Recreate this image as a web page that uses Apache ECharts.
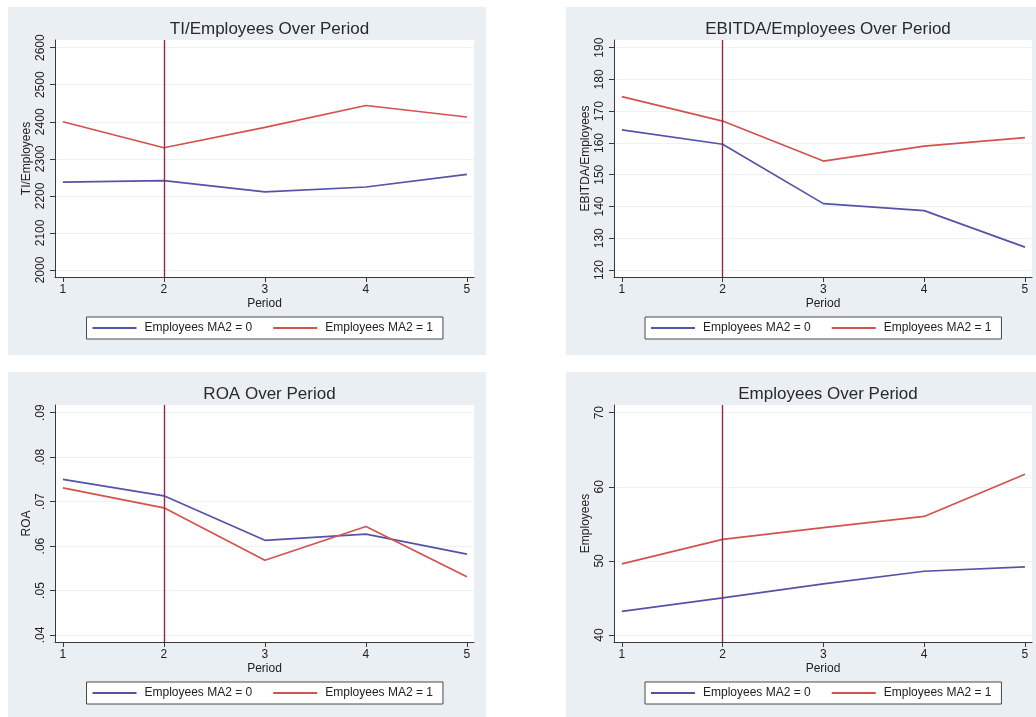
<!DOCTYPE html>
<html>
<head>
<meta charset="utf-8">
<title>Performance Over Period</title>
<script src="https://cdn.jsdelivr.net/npm/echarts@6/dist/echarts.min.js"></script>
<style>
  html, body { margin: 0; padding: 0; background: #ffffff; }
  #chart { width: 1036px; height: 717px; }
</style>
</head>
<body>
<div id="chart"></div>
<script>
// Periods and the period marked by the vertical reference line
const periods = [1, 2, 3, 4, 5];
const markerPeriod = 2;

// Group names
const groupNames = ['Employees MA2 = 0', 'Employees MA2 = 1'];

// TI per employee
const tiEmp0 = [2237, 2241, 2211, 2224, 2258];
const tiEmp1 = [2400, 2330, 2385, 2444, 2413];
const tiTicks = [2000, 2100, 2200, 2300, 2400, 2500, 2600];

// EBITDA per employee
const ebitdaEmp0 = [164.1, 159.6, 140.9, 138.7, 127.2];
const ebitdaEmp1 = [174.6, 166.9, 154.3, 159.0, 161.7];
const ebitdaTicks = [120, 130, 140, 150, 160, 170, 180, 190];

// Return on assets
const roa0 = [0.0750, 0.0713, 0.0613, 0.0627, 0.0582];
const roa1 = [0.0731, 0.0686, 0.0568, 0.0644, 0.0531];
const roaTicks = [0.04, 0.05, 0.06, 0.07, 0.08, 0.09];

// Head count
const emp0 = [43.2, 45.0, 46.9, 48.6, 49.2];
const emp1 = [49.6, 52.9, 54.5, 56.0, 61.7];
const empTicks = [40, 50, 60, 70];

// ---- styling ----
const FONT = '"Liberation Sans", Arial, Helvetica, sans-serif';
const TEXT = '#222222';
const AXIS = '#3a3a3a';
const BLUE = '#5453a8';
const RED = '#d3524f';
const REF = '#9a2448';
const PANEL_BG = '#e9eff2';
const GRID_LINE = '#edf2f4';

// panel boxes: outer background and inner plot region (pixels)
const panels = [
  { bg: [8, 7, 478, 348],   plot: [55, 40, 419, 237] },
  { bg: [566, 7, 470, 348], plot: [614, 40, 418, 237] },
  { bg: [8, 372, 478, 345], plot: [55, 405, 419, 237] },
  { bg: [566, 372, 470, 345], plot: [614, 405, 418, 237] }
];

const panelDefs = [
  { title: 'TI/Employees Over Period', yName: 'TI/Employees', ticks: tiTicks, s0: tiEmp0, s1: tiEmp1, fmt: v => String(v) },
  { title: 'EBITDA/Employees Over Period', yName: 'EBITDA/Employees', ticks: ebitdaTicks, s0: ebitdaEmp0, s1: ebitdaEmp1, fmt: v => String(v) },
  { title: 'ROA Over Period', yName: 'ROA', ticks: roaTicks, s0: roa0, s1: roa1, fmt: v => Number(v).toFixed(2).replace(/^0/, '') },
  { title: 'Employees Over Period', yName: 'Employees', ticks: empTicks, s0: emp0, s1: emp1, fmt: v => String(v) }
];

// the plot region extends a little beyond the outer ticks
const PAD_LOW = 0.0315, PAD_HIGH = 0.0346;
function paddedRange(ticks, lowPad, highPad) {
  const lo = ticks[0], hi = ticks[ticks.length - 1], span = hi - lo;
  return [lo - span * lowPad, hi + span * highPad];
}

const pairs = vals => periods.map((p, i) => [p, vals[i]]);

const grid = [], xAxis = [], yAxis = [], series = [], title = [], legend = [], graphic = [];

panelDefs.forEach((d, i) => {
  const pb = panels[i];
  const [px, py, pw, ph] = pb.plot;

  graphic.push({
    type: 'rect', silent: true, z: -10,
    shape: { x: pb.bg[0], y: pb.bg[1], width: pb.bg[2], height: pb.bg[3] },
    style: { fill: PANEL_BG }
  });

  grid.push({
    left: px, top: py, width: pw, height: ph,
    show: true, backgroundColor: '#ffffff', borderWidth: 0
  });

  const xr = paddedRange(periods, 0.0195, 0.0175);
  xAxis.push({
    type: 'value', gridIndex: i, min: xr[0], max: xr[1],
    name: 'Period', nameLocation: 'middle', nameGap: 21,
    nameTextStyle: { fontFamily: FONT, fontSize: 12, color: TEXT },
    axisLine: { show: true, lineStyle: { color: AXIS, width: 1 } },
    axisTick: { show: true, length: 5, customValues: periods, lineStyle: { color: AXIS } },
    axisLabel: { customValues: periods, margin: 7, fontFamily: FONT, fontSize: 12, color: TEXT },
    splitLine: { show: false }
  });

  const yr = paddedRange(d.ticks, PAD_LOW, PAD_HIGH);
  yAxis.push({
    type: 'value', gridIndex: i, min: yr[0], max: yr[1],
    name: d.yName, nameLocation: 'middle', nameGap: 22, nameRotate: 90,
    nameTextStyle: { fontFamily: FONT, fontSize: 12, color: TEXT },
    axisLine: { show: true, lineStyle: { color: AXIS, width: 1 } },
    axisTick: { show: true, length: 5, customValues: d.ticks, lineStyle: { color: AXIS } },
    axisLabel: { customValues: d.ticks, rotate: 90, margin: 8, fontFamily: FONT, fontSize: 12, color: TEXT, formatter: d.fmt },
    splitLine: { show: true, lineStyle: { color: GRID_LINE, width: 1 } }
  });

  title.push({
    text: d.title, left: px + pw / 2, top: py - 24, textAlign: 'center',
    textStyle: { fontFamily: FONT, fontSize: 17, fontWeight: 'normal', color: '#2a2a2a' }
  });

  legend.push({
    data: groupNames, left: px + pw / 2 - 178, top: py + ph + 40,
    orient: 'horizontal', itemWidth: 44, itemHeight: 2, itemGap: 21,
    icon: 'path://M0,0H44V2H0Z',
    padding: [5, 10, 5, 6],
    backgroundColor: '#ffffff', borderColor: '#4a4a4a', borderWidth: 1, borderRadius: 0,
    textStyle: { fontFamily: FONT, fontSize: 12, color: TEXT, padding: [0, 0, 0, 3] },
    selectedMode: false
  });

  series.push({
    name: groupNames[0], type: 'line', xAxisIndex: i, yAxisIndex: i,
    data: pairs(d.s0), symbol: 'none', color: BLUE,
    lineStyle: { color: BLUE, width: 1.7 },
    markLine: {
      silent: true, symbol: ['none', 'none'], label: { show: false },
      lineStyle: { color: REF, type: 'solid', width: 1.4 },
      data: [{ xAxis: markerPeriod }]
    }
  });
  series.push({
    name: groupNames[1], type: 'line', xAxisIndex: i, yAxisIndex: i,
    data: pairs(d.s1), symbol: 'none', color: RED,
    lineStyle: { color: RED, width: 1.7 }
  });
});

const chart = echarts.init(document.getElementById('chart'), null, { renderer: 'canvas' });
chart.setOption({
  animation: false,
  backgroundColor: '#ffffff',
  graphic: graphic,
  title: title,
  legend: legend,
  grid: grid,
  xAxis: xAxis,
  yAxis: yAxis,
  series: series,
  tooltip: { show: false }
});
</script>
</body>
</html>
